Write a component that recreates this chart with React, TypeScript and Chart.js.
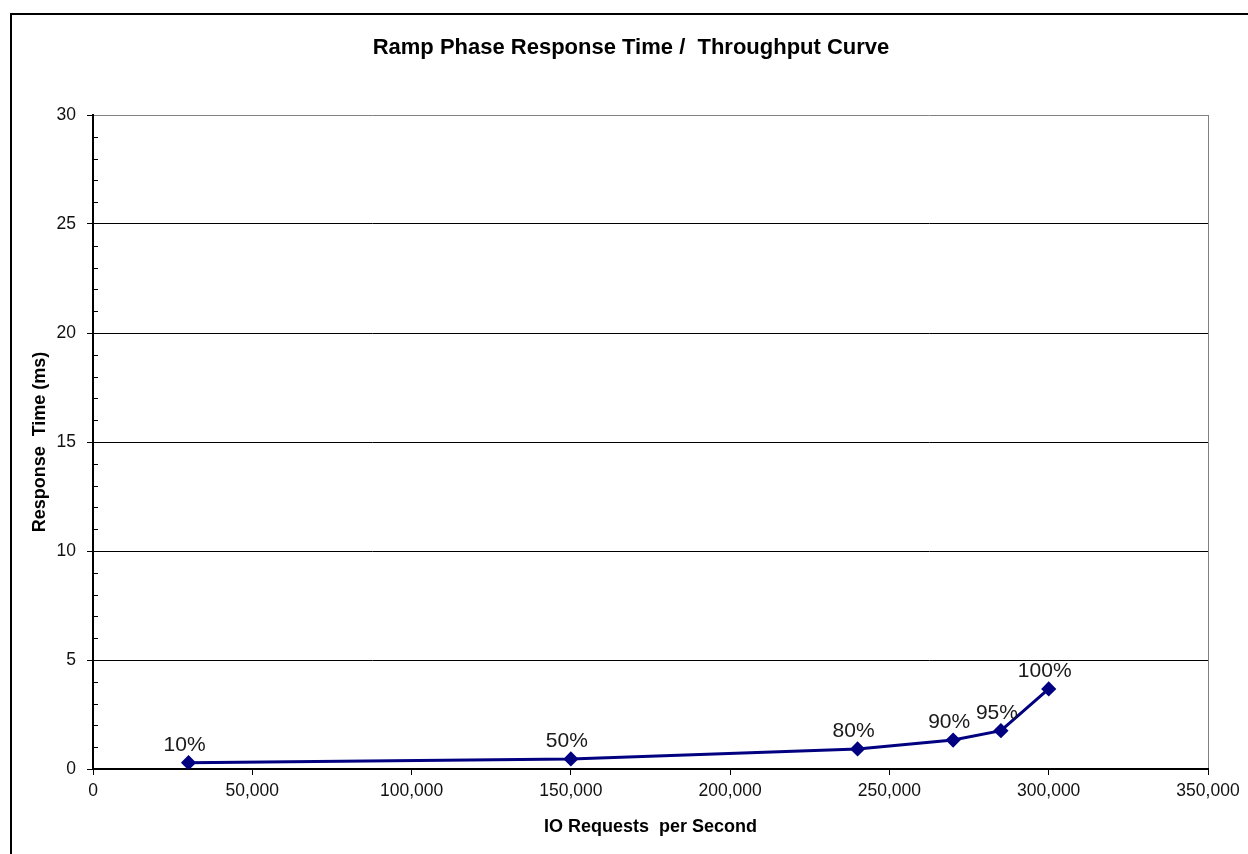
import React, { useEffect, useRef } from "react";
import { Chart, registerables } from "chart.js";

Chart.register(...registerables);

const loadLabels = ["10%", "50%", "80%", "90%", "95%", "100%"];
const ioRequests = [30000, 150000, 240000, 270000, 285000, 300000];
const responseTimes = [0.29, 0.46, 0.92, 1.33, 1.76, 3.67];
const yMinorTicks = [1, 2, 3, 4, 6, 7, 8, 9, 11, 12, 13, 14, 16, 17, 18, 19, 21, 22, 23, 24, 26, 27, 28, 29];

const FONT = "'Liberation Sans', Arial, sans-serif";

const minorTickPlugin = {
  id: "minorTicks",
  afterDraw(chart: any) {
    const { ctx, chartArea, scales } = chart;
    const y = scales.y;
    ctx.save();
    ctx.strokeStyle = "#000";
    ctx.lineWidth = 1;
    yMinorTicks.forEach((v) => {
      const py = Math.round(y.getPixelForValue(v)) + 0.5;
      ctx.beginPath();
      ctx.moveTo(chartArea.left, py);
      ctx.lineTo(chartArea.left + 5, py);
      ctx.stroke();
    });
    ctx.restore();
  },
};

const pointLabelPlugin = {
  id: "pointLabels",
  afterDatasetsDraw(chart: any) {
    const { ctx } = chart;
    const meta = chart.getDatasetMeta(0);
    ctx.save();
    ctx.font = `21px ${FONT}`;
    ctx.fillStyle = "#1a1a1a";
    ctx.textAlign = "center";
    ctx.textBaseline = "alphabetic";
    meta.data.forEach((pt: any, i: number) => {
      ctx.fillText(loadLabels[i], pt.x - 4, pt.y - 12);
    });
    ctx.restore();
  },
};

export default function App() {
  const canvasRef = useRef<HTMLCanvasElement | null>(null);

  useEffect(() => {
    if (!canvasRef.current) return;
    const chart = new Chart(canvasRef.current, {
      type: "line",
      data: {
        datasets: [
          {
            label: "Response Time",
            data: ioRequests.map((x, i) => ({ x, y: responseTimes[i] })),
            borderColor: "#000080",
            backgroundColor: "#000080",
            borderWidth: 3,
            pointStyle: "rectRot",
            pointRadius: 5.5,
            pointHoverRadius: 5.5,
            tension: 0,
          },
        ],
      },
      options: {
        responsive: false,
        animation: false,
        devicePixelRatio: 1,
        layout: { padding: { left: 14, right: 0, top: 0, bottom: 0 } },
        plugins: {
          legend: { display: false },
          tooltip: { enabled: false },
          title: {
            display: true,
            text: "Ramp Phase Response Time /  Throughput Curve",
            color: "#000",
            font: { family: FONT, size: 22, weight: "bold" },
            padding: { top: 35, bottom: 53.6 },
          },
        },
        scales: {
          x: {
            type: "linear",
            min: 0,
            max: 350000,
            ticks: {
              stepSize: 50000,
              color: "#111",
              font: { family: FONT, size: 17.5 },
              padding: 6,
              maxRotation: 0,
              callback: (v: any) => Number(v).toLocaleString("en-US"),
            },
            grid: {
              color: (c: any) => (c.tick && c.tick.value === 350000 ? "#808080" : "rgba(0,0,0,0)"),
              tickColor: "#000",
              tickLength: 6,
              lineWidth: 1,
            },
            border: { color: "#000", width: 2 },
            title: {
              display: true,
              text: "IO Requests  per Second",
              color: "#000",
              font: { family: FONT, size: 18, weight: "bold" },
              padding: { top: 0, bottom: 16 },
            },
            afterFit: (scale: any) => {
              scale.height = 85;
              scale.paddingRight = 40;
            },
          },
          y: {
            type: "linear",
            min: 0,
            max: 30,
            ticks: {
              stepSize: 5,
              color: "#111",
              font: { family: FONT, size: 17.5 },
              padding: 11,
            },
            grid: {
              color: (c: any) => (c.tick && c.tick.value === 30 ? "#808080" : "#000"),
              tickColor: "#000",
              tickLength: 6,
              lineWidth: 1,
            },
            border: { color: "#000", width: 2 },
            title: {
              display: true,
              text: "Response  Time (ms)",
              color: "#000",
              font: { family: FONT, size: 18, weight: "bold" },
              padding: { top: 15, bottom: 0 },
            },
            afterFit: (scale: any) => {
              scale.width = 79;
            },
          },
        },
      },
      plugins: [minorTickPlugin, pointLabelPlugin],
    });
    return () => chart.destroy();
  }, []);

  return (
    <div
      style={{
        position: "fixed",
        left: 0,
        top: 0,
        width: 1248,
        height: 854,
        background: "#fff",
        overflow: "hidden",
      }}
    >
      <div
        style={{
          position: "absolute",
          left: 10,
          top: 13,
          width: 1300,
          height: 900,
          borderLeft: "2px solid #000",
          borderTop: "2px solid #000",
        }}
      />
      <canvas
        ref={canvasRef}
        width={1248}
        height={854}
        style={{ position: "absolute", left: 0, top: 0, width: 1248, height: 854 }}
      />
    </div>
  );
}
